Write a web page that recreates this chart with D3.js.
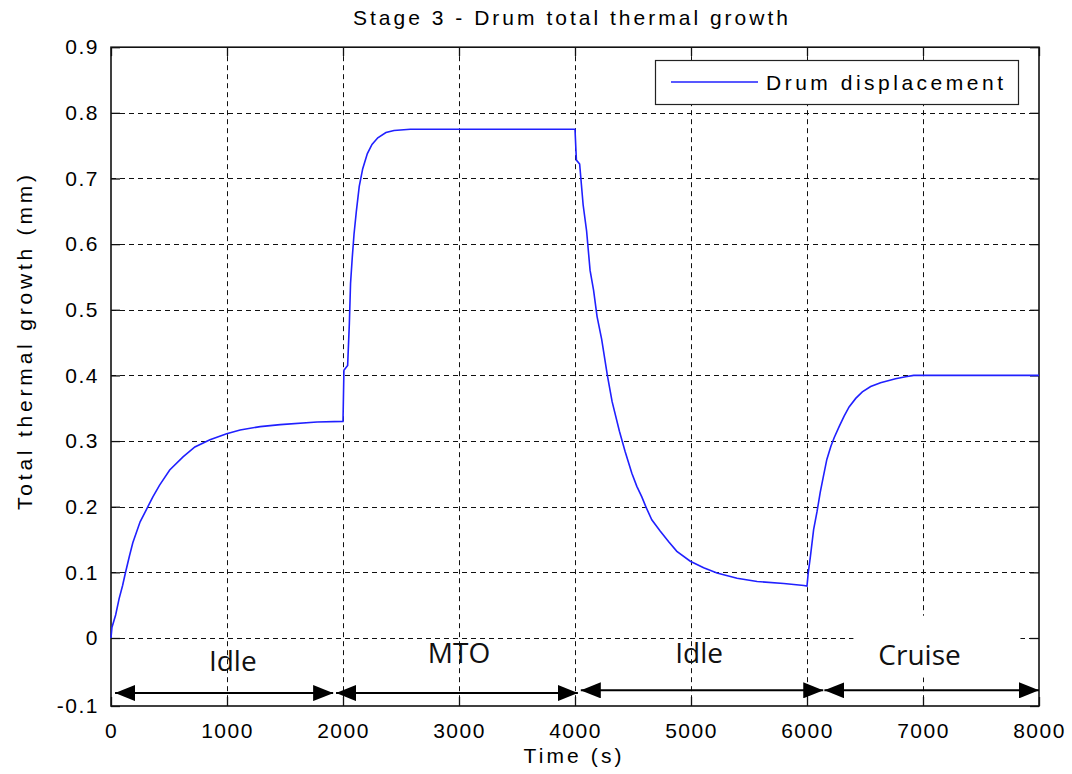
<!DOCTYPE html>
<html>
<head>
<meta charset="utf-8">
<script src="https://cdn.jsdelivr.net/npm/d3@7"></script>
<style>
  body { margin: 0; background: #fff; }
  svg { display: block; }
  text { font-family: "Liberation Sans", Arial, sans-serif; fill: #000; }
  .tick text { font-size: 21px; letter-spacing: 1.5px; }
  .phase { font-family: "Open Sans", sans-serif; font-size: 28px; fill: #111; }
</style>
</head>
<body>
<div id="chart"></div>
<script>
// time (s) and drum displacement (mm)
var timeS = [0, 8, 40, 70, 100, 124, 159, 188, 251, 318, 361, 419, 506, 621, 723, 853, 997, 1113, 1286, 1459, 1777, 2000,
  2008, 2040, 2055, 2065, 2080, 2095, 2115, 2140, 2170, 2210, 2250, 2300, 2370, 2440, 2580, 4000,
  4012, 4040, 4070, 4100, 4130, 4160, 4190, 4230, 4279, 4320, 4383, 4432, 4490, 4533, 4576, 4613, 4662,
  4734, 4806, 4878, 4994, 5109, 5224, 5397, 5570, 5800, 5973, 6000,
  6010, 6030, 6057, 6086, 6114, 6140, 6171, 6206, 6234, 6277, 6320, 6363, 6420, 6477, 6549, 6634, 6763, 6850, 6920, 8000]
var drumDisp = [0, 0.016, 0.035, 0.06, 0.08, 0.099, 0.125, 0.145, 0.177, 0.2, 0.215, 0.233, 0.256, 0.276, 0.291, 0.302, 0.311, 0.317, 0.322, 0.325, 0.329, 0.330,
  0.408, 0.415, 0.48, 0.54, 0.58, 0.615, 0.65, 0.688, 0.715, 0.738, 0.752, 0.762, 0.770, 0.773, 0.775, 0.775,
  0.728, 0.722, 0.66, 0.62, 0.56, 0.53, 0.49, 0.455, 0.40, 0.36, 0.315, 0.284, 0.251, 0.231, 0.215, 0.199, 0.180,
  0.163, 0.147, 0.132, 0.117, 0.107, 0.099, 0.091, 0.086, 0.083, 0.080, 0.079,
  0.098, 0.125, 0.165, 0.192, 0.222, 0.245, 0.272, 0.292, 0.305, 0.322, 0.338, 0.352, 0.365, 0.375, 0.383, 0.389, 0.395, 0.398, 0.400, 0.400]

var xTicks = [0, 1000, 2000, 3000, 4000, 5000, 6000, 7000, 8000]
var yTicks = [-0.1, 0, 0.1, 0.2, 0.3, 0.4, 0.5, 0.6, 0.7, 0.8, 0.9]
var yTickLabels = ['-0.1', '0', '0.1', '0.2', '0.3', '0.4', '0.5', '0.6', '0.7', '0.8', '0.9']

// engine phase annotations
var phaseNames = ['Idle', 'MTO', 'Idle', 'Cruise']
var phaseLabelX = [1050, 3000, 5070, 6970]
var phaseLabelY = [-0.048, -0.037, -0.037, -0.040]
var arrowFrom = [35, 1940, 4050, 6150]
var arrowTo = [1915, 4025, 6140, 8000]
var arrowY = [-0.081, -0.081, -0.077, -0.077]

var W = 1072, H = 774
var svg = d3.select('#chart').append('svg').attr('width', W).attr('height', H)

var x = d3.scaleLinear().domain([0, 8000]).range([111, 1039])
var y = d3.scaleLinear().domain([-0.1, 0, 0.9]).range([706, 638, 47.2])

var xLeft = x.range()[0], xRight = x.range()[1]
var yTop = y(0.9), yBottom = y(-0.1)

// grid
var grid = svg.append('g').attr('stroke', '#111').attr('stroke-width', 1).attr('stroke-dasharray', '5,4')
grid.selectAll('.hg').data(yTicks.slice(1, -1)).enter().append('line')
  .attr('x1', xLeft).attr('x2', xRight)
  .attr('y1', function (d) { return Math.round(y(d)) + 0.5 })
  .attr('y2', function (d) { return Math.round(y(d)) + 0.5 })
grid.selectAll('.vg').data(xTicks.slice(1, -1)).enter().append('line')
  .attr('y1', yTop).attr('y2', yBottom)
  .attr('x1', function (d) { return Math.round(x(d)) + 0.5 })
  .attr('x2', function (d) { return Math.round(x(d)) + 0.5 })

// white box behind the Cruise label
svg.append('rect')
  .attr('x', x(6400)).attr('width', x(7840) - x(6400))
  .attr('y', y(0.034)).attr('height', y(-0.058) - y(0.034))
  .attr('fill', '#fff')

// axes with inward ticks
var fmtY = function (d) { return yTickLabels[yTicks.indexOf(d)] }
var axB = svg.append('g').attr('transform', 'translate(0,' + yBottom + ')')
  .call(d3.axisBottom(x).tickValues(xTicks).tickSize(-9).tickPadding(17).tickFormat(d3.format('d')))
var axT = svg.append('g').attr('transform', 'translate(0,' + yTop + ')')
  .call(d3.axisTop(x).tickValues(xTicks).tickSize(-9).tickFormat(''))
var axL = svg.append('g').attr('transform', 'translate(' + xLeft + ',0)')
  .call(d3.axisLeft(y).tickValues(yTicks).tickSize(-9).tickPadding(12).tickFormat(fmtY))
var axR = svg.append('g').attr('transform', 'translate(' + xRight + ',0)')
  .call(d3.axisRight(y).tickValues(yTicks).tickSize(-9).tickFormat(''))
;[axB, axT, axL, axR].forEach(function (a) {
  a.select('.domain').remove()
  a.selectAll('.tick line').attr('stroke', '#111').attr('stroke-width', 1.3)
  a.selectAll('.tick text').attr('font-family', null).attr('font-size', null)
})
svg.append('rect')
  .attr('x', xLeft).attr('y', yTop).attr('width', xRight - xLeft).attr('height', yBottom - yTop)
  .attr('fill', 'none').attr('stroke', '#111').attr('stroke-width', 1.6)

// the curve
var line = d3.line()
  .x(function (d, i) { return x(timeS[i]) })
  .y(function (d) { return y(d) })
svg.append('path')
  .attr('d', line(drumDisp))
  .attr('fill', 'none')
  .attr('stroke', '#2020ff')
  .attr('stroke-width', 1.6)

// phase arrows
var defs = svg.append('defs')
defs.append('marker').attr('id', 'ah').attr('viewBox', '0 0 20 16')
  .attr('refX', 20).attr('refY', 8).attr('markerWidth', 20).attr('markerHeight', 16)
  .attr('markerUnits', 'userSpaceOnUse').attr('orient', 'auto-start-reverse')
  .append('path').attr('d', 'M0,0 L20,8 L0,16 Z').attr('fill', '#000')
svg.selectAll('.arrow').data(phaseNames).enter().append('line')
  .attr('x1', function (d, i) { return x(arrowFrom[i]) })
  .attr('x2', function (d, i) { return x(arrowTo[i]) })
  .attr('y1', function (d, i) { return y(arrowY[i]) })
  .attr('y2', function (d, i) { return y(arrowY[i]) })
  .attr('stroke', '#000').attr('stroke-width', 2)
  .attr('marker-start', 'url(#ah)').attr('marker-end', 'url(#ah)')
svg.selectAll('.phase').data(phaseNames).enter().append('text')
  .attr('class', 'phase')
  .attr('x', function (d, i) { return x(phaseLabelX[i]) })
  .attr('y', function (d, i) { return y(phaseLabelY[i]) })
  .attr('text-anchor', 'middle')
  .text(function (d) { return d })

// legend
var lg = svg.append('g')
lg.append('rect').attr('x', 655.5).attr('y', 60.5).attr('width', 363).attr('height', 44)
  .attr('fill', '#fff').attr('stroke', '#222').attr('stroke-width', 1.2)
lg.append('line').attr('x1', 671).attr('x2', 758).attr('y1', 82).attr('y2', 82)
  .attr('stroke', '#2020ff').attr('stroke-width', 1.6)
lg.append('text').attr('x', 766).attr('y', 90).attr('font-size', 21)
  .attr('textLength', 237).attr('lengthAdjust', 'spacing').text('Drum displacement')

// titles
svg.append('text').attr('x', 570.5).attr('y', 25).attr('text-anchor', 'middle').attr('font-size', 21)
  .attr('textLength', 435).attr('lengthAdjust', 'spacing').text('Stage 3 - Drum total thermal growth')
svg.append('text').attr('x', 572.5).attr('y', 763).attr('text-anchor', 'middle').attr('font-size', 21)
  .attr('textLength', 98).attr('lengthAdjust', 'spacing').text('Time (s)')
svg.append('text').attr('transform', 'translate(32,342.5) rotate(-90)').attr('text-anchor', 'middle')
  .attr('font-size', 21).attr('textLength', 335).attr('lengthAdjust', 'spacing')
  .text('Total thermal growth (mm)')
</script>
</body>
</html>
